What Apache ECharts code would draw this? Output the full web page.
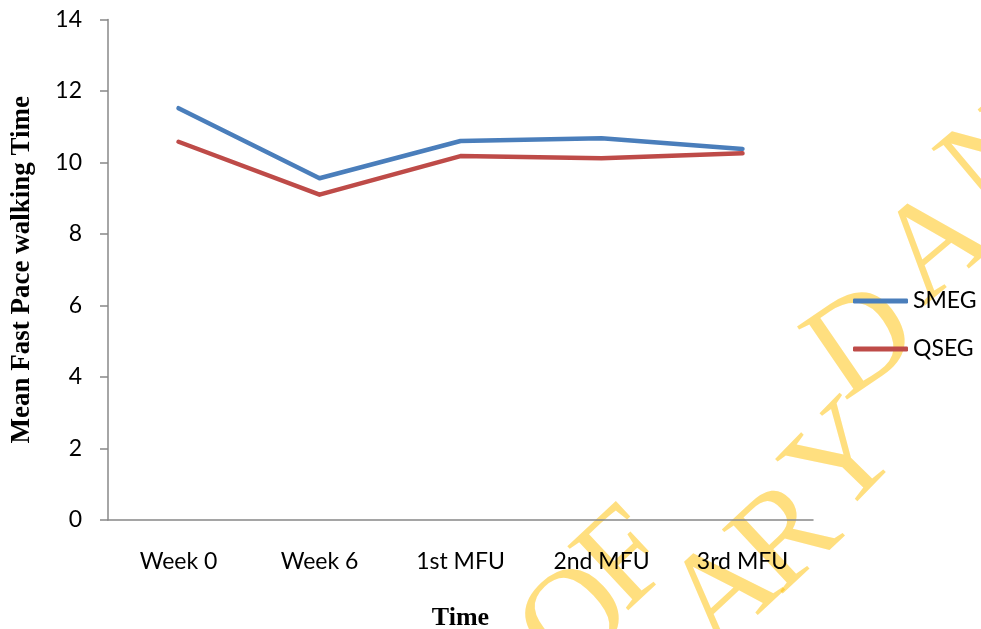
<!DOCTYPE html>
<html>
<head>
<meta charset="utf-8">
<title>Mean Fast Pace walking Time</title>
<script src="https://cdn.jsdelivr.net/npm/echarts@6/dist/echarts.min.js"></script>
<style>
  html, body { margin: 0; padding: 0; background: #fff; }
  #chart { width: 981px; height: 629px; }
</style>
</head>
<body>
<div id="chart"></div>
<script>
// Time points of the follow-up
const categories = ['Week 0', 'Week 6', '1st MFU', '2nd MFU', '3rd MFU'];

// Mean fast pace walking time per group
const smeg = [11.52, 9.56, 10.60, 10.68, 10.38];
const qseg = [10.58, 9.10, 10.18, 10.12, 10.26];

// Value axis ticks
const yTicks = [0, 2, 4, 6, 8, 10, 12, 14];

// Library stamp letters laid across the lower right corner
const stampLetters = [
  { ch: 'O', x: 578, y: 622, r: 0.75 },
  { ch: 'F', x: 628, y: 562, r: 0.75 },
  { ch: 'A', x: 726, y: 596, r: 0.75 },
  { ch: 'R', x: 788, y: 540, r: 0.75 },
  { ch: 'Y', x: 846, y: 462, r: 0.8 },
  { ch: 'D', x: 864, y: 345, r: 0.6 },
  { ch: 'A', x: 938, y: 248, r: 0.7 },
  { ch: 'N', x: 1000, y: 160, r: 0.7 }
];

const labelFont = 'Lato, "Open Sans", sans-serif';
const titleFont = '"Liberation Serif", "Times New Roman", serif';

const chart = echarts.init(document.getElementById('chart'));

chart.setOption({
  animation: false,
  backgroundColor: '#ffffff',
  grid: { left: 108, right: 168, top: 19.5, bottom: 109, containLabel: false, outerBoundsMode: 'none' },
  legend: {
    orient: 'vertical',
    left: 853,
    top: 289,
    padding: 0,
    itemWidth: 55,
    itemHeight: 5,
    itemGap: 24,
    icon: 'roundRect',
    textStyle: { fontFamily: labelFont, fontSize: 23, color: '#000', lineHeight: 24 },
    data: ['SMEG', 'QSEG']
  },
  xAxis: {
    type: 'category',
    data: categories,
    boundaryGap: true,
    axisLine: { lineStyle: { color: '#888', width: 1.5 } },
    axisTick: { show: false },
    axisLabel: { fontFamily: labelFont, fontSize: 23, color: '#000', margin: 30 },
    name: 'Time',
    nameLocation: 'middle',
    nameGap: 85,
    nameTextStyle: { fontFamily: titleFont, fontSize: 26, fontWeight: 'bold', color: '#000' }
  },
  yAxis: {
    type: 'value',
    min: yTicks[0],
    max: yTicks[yTicks.length - 1],
    interval: yTicks[1] - yTicks[0],
    splitLine: { show: false },
    axisLine: { show: true, lineStyle: { color: '#888', width: 1.5 } },
    axisTick: { show: true, length: 8, lineStyle: { color: '#888', width: 1.5 } },
    axisLabel: { fontFamily: labelFont, fontSize: 23, color: '#000', margin: 26 },
    name: 'Mean Fast Pace walking Time',
    nameLocation: 'middle',
    nameGap: 72,
    nameRotate: 90,
    nameTextStyle: { fontFamily: titleFont, fontSize: 27, fontWeight: 'bold', color: '#000' }
  },
  series: [
    {
      name: 'SMEG',
      type: 'line',
      data: smeg,
      showSymbol: false,
      symbol: 'none',
      z: 3,
      lineStyle: { color: '#4A7EBB', width: 4.5, cap: 'round', join: 'round' },
      itemStyle: { color: '#4A7EBB' }
    },
    {
      name: 'QSEG',
      type: 'line',
      data: qseg,
      showSymbol: false,
      symbol: 'none',
      z: 3,
      lineStyle: { color: '#BE4B48', width: 4.5, cap: 'round', join: 'round' },
      itemStyle: { color: '#BE4B48' }
    }
  ],
  graphic: stampLetters.map(l => ({
    type: 'text',
    x: l.x,
    y: l.y,
    rotation: l.r,
    z: -1,
    silent: true,
    style: {
      text: l.ch,
      fontFamily: titleFont,
      fontSize: 135,
      fill: 'rgba(255, 192, 0, 0.5)',
      align: 'center',
      verticalAlign: 'middle'
    }
  }))
});
</script>
</body>
</html>
